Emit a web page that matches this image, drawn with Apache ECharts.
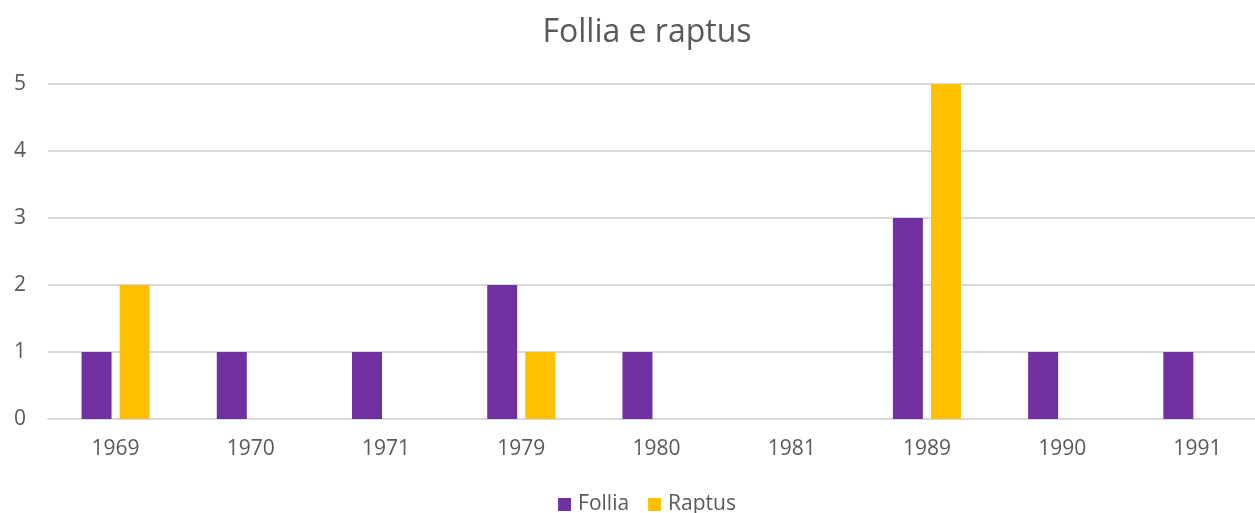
<!DOCTYPE html>
<html>
<head>
<meta charset="utf-8">
<script src="https://cdn.jsdelivr.net/npm/echarts@6/dist/echarts.min.js"></script>
<style>
  html, body { margin: 0; padding: 0; background: #fff; overflow: hidden; }
  #chart { width: 1294px; height: 513px; }
</style>
</head>
<body>
<div id="chart"></div>
<script>
// chart data
const years = ['1969', '1970', '1971', '1979', '1980', '1981', '1989', '1990', '1991']
const follia = [1, 1, 1, 2, 1, 0, 3, 1, 1]
const raptus = [2, 0, 0, 1, 0, 0, 5, 0, 0]
const yTicks = [0, 1, 2, 3, 4, 5]

const chart = echarts.init(document.getElementById('chart'))
const textColor = '#595959'
const font = '"Open Sans", "Noto Sans", sans-serif'

chart.setOption({
  animation: false,
  title: {
    text: 'Follia e raptus',
    left: 'center',
    top: 12,
    textStyle: { color: textColor, fontSize: 32, fontWeight: 'normal', fontFamily: font }
  },
  legend: {
    data: ['Follia', 'Raptus'],
    top: 489,
    left: 'center',
    itemWidth: 13,
    itemHeight: 13,
    itemGap: 19,
    icon: 'rect',
    textStyle: { color: textColor, fontSize: 21, fontFamily: font, padding: [0, 0, 0, 2] }
  },
  grid: {
    left: 48,
    right: 29,
    top: 84,
    height: 335
  },
  xAxis: {
    type: 'category',
    data: years,
    axisTick: { show: false },
    axisLine: { lineStyle: { color: '#d9d9d9', width: 2 } },
    axisLabel: { color: textColor, fontSize: 21, fontFamily: font, margin: 20 }
  },
  yAxis: {
    type: 'value',
    min: yTicks[0],
    max: yTicks[yTicks.length - 1],
    interval: 1,
    axisLine: { show: false },
    axisTick: { show: false },
    splitLine: { lineStyle: { color: '#d9d9d9', width: 2 } },
    axisLabel: { color: textColor, fontSize: 21, fontFamily: font, margin: 34, align: 'left' }
  },
  series: [
    {
      name: 'Follia',
      type: 'bar',
      data: follia,
      barWidth: 30,
      barGap: '27%',
      itemStyle: { color: '#7030A0' }
    },
    {
      name: 'Raptus',
      type: 'bar',
      data: raptus,
      barWidth: 30,
      itemStyle: { color: '#FFC000' }
    }
  ]
})
</script>
</body>
</html>
